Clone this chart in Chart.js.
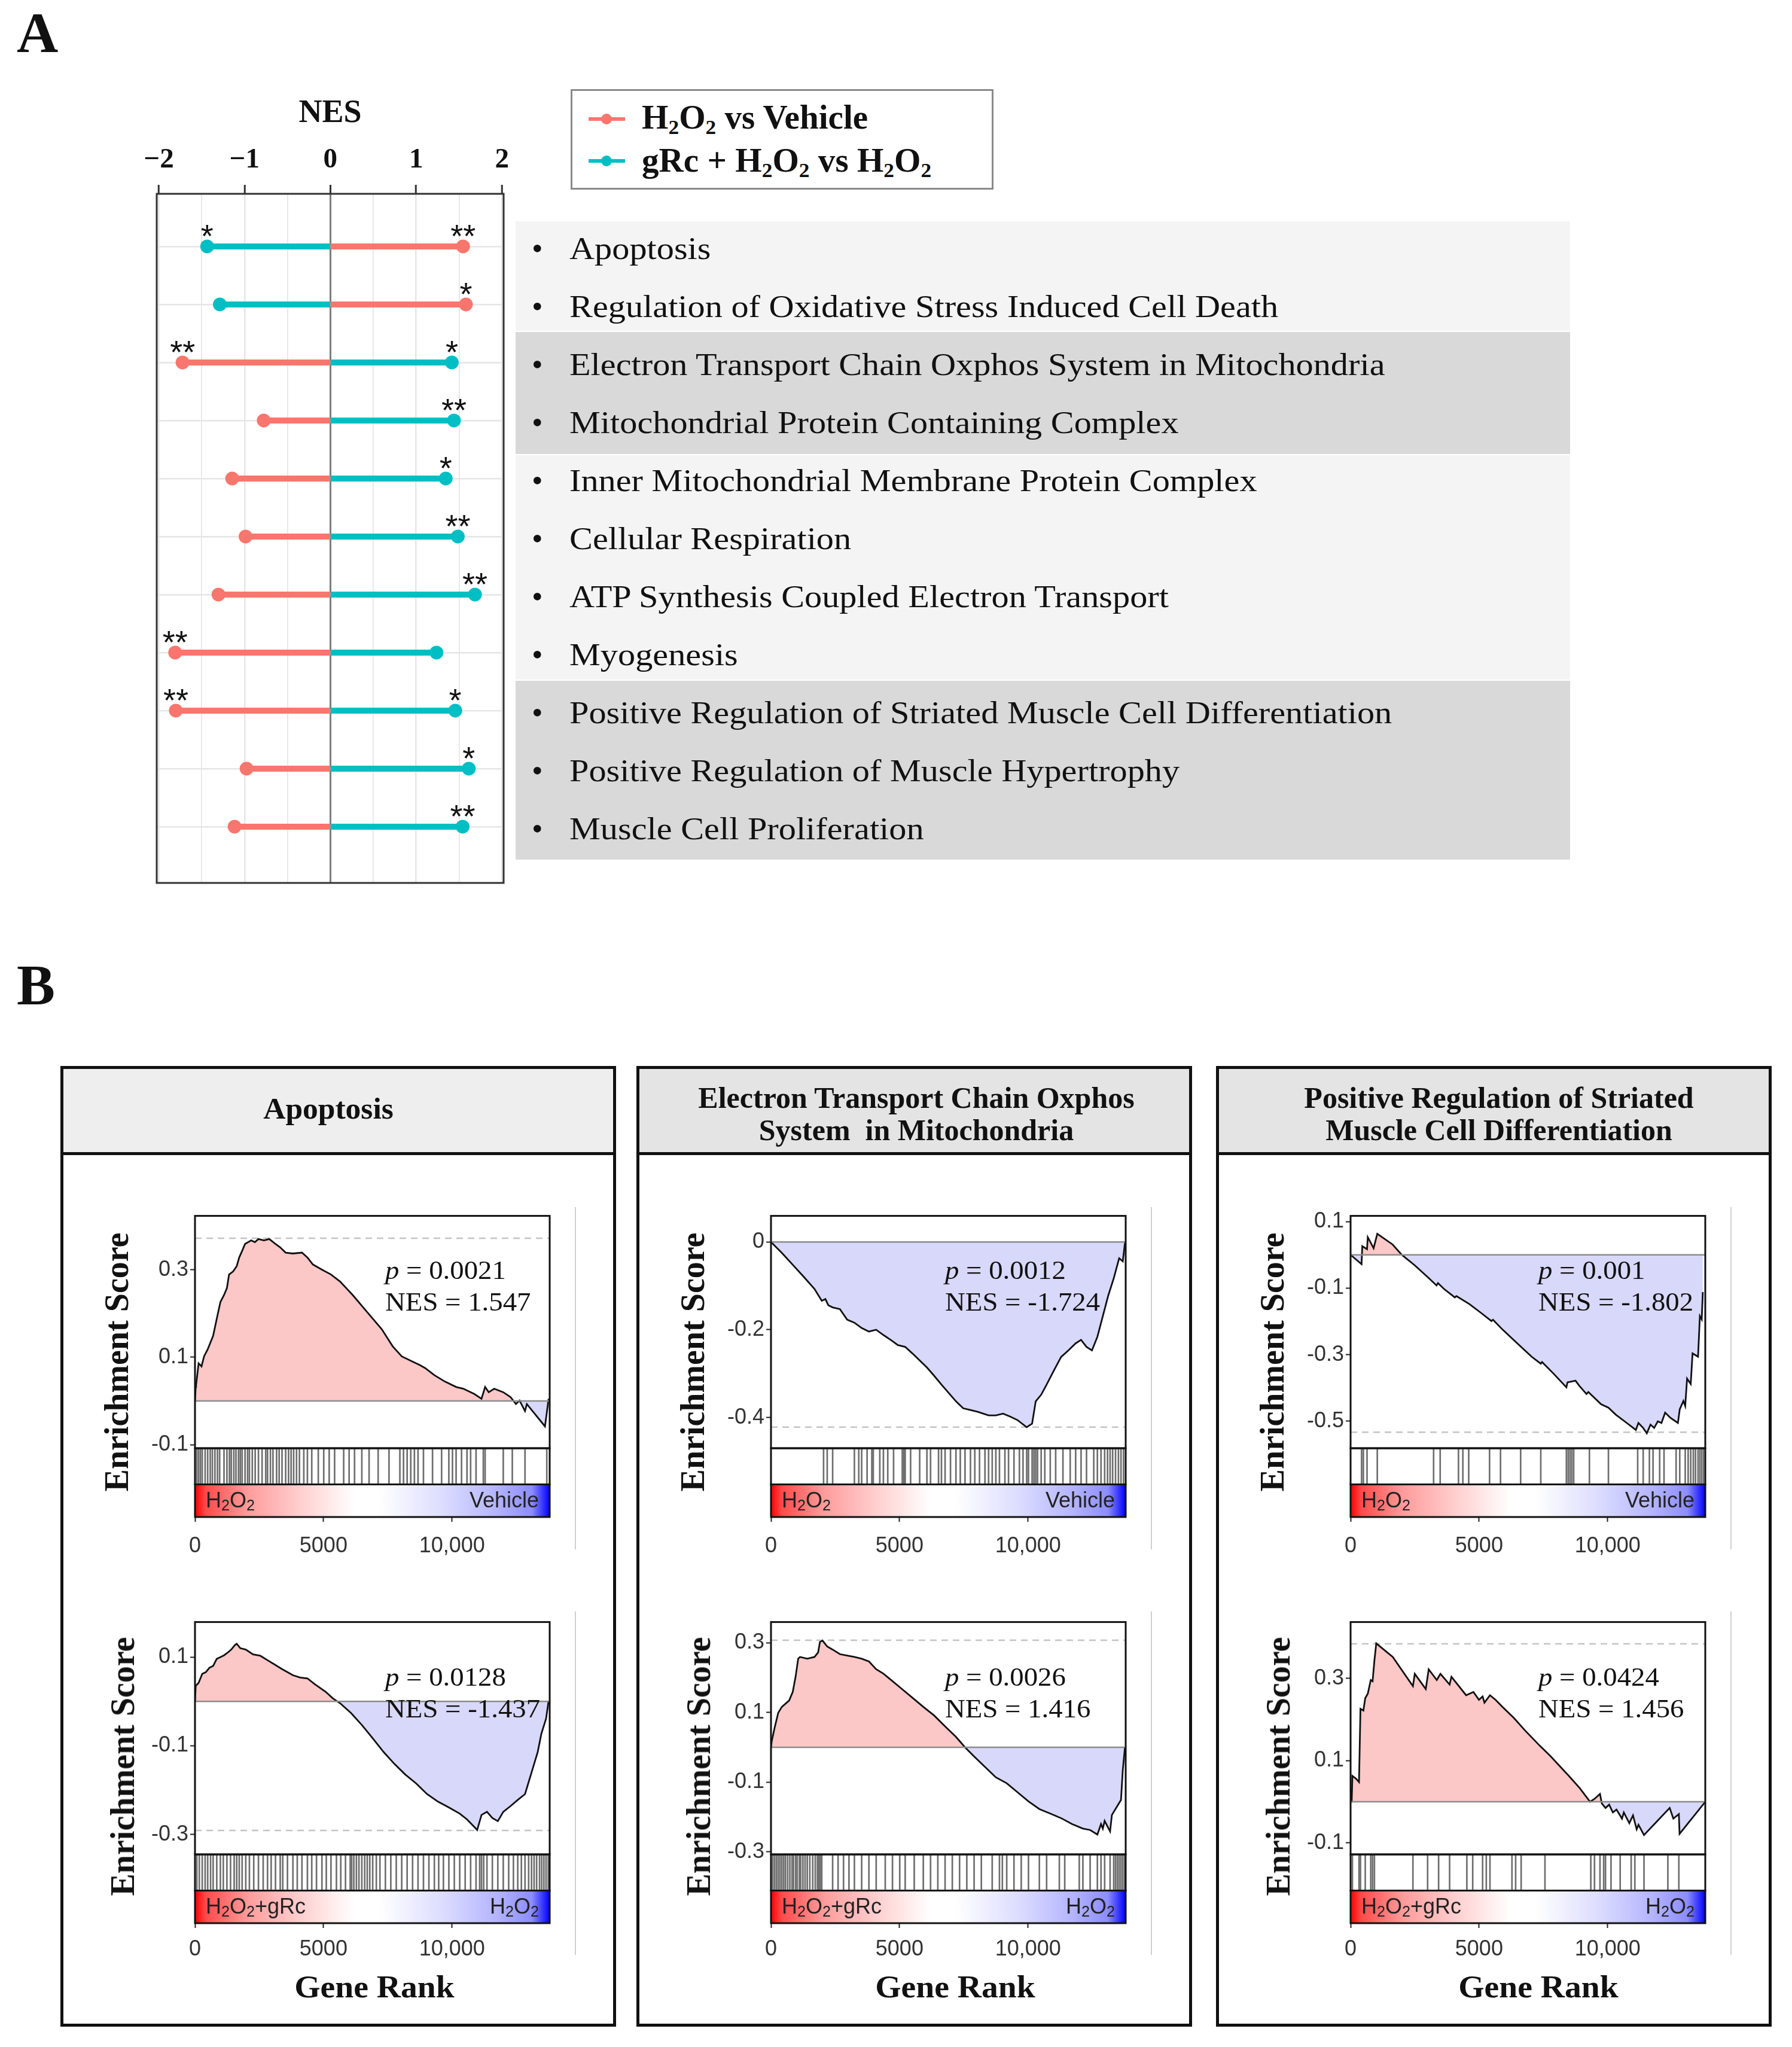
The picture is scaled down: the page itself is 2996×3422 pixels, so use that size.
<!DOCTYPE html>
<html>
<head>
<meta charset="utf-8">
<script src="https://cdn.jsdelivr.net/npm/chart.js@4.4.1/dist/chart.umd.min.js"></script>
<style>
  html, body { margin: 0; padding: 0; background: #fff; overflow: hidden; }
  #page { position: relative; width: 2996px; height: 3422px; background: #fff; overflow: hidden; }
  canvas { position: absolute; }
  .t { position: absolute; white-space: pre; line-height: 1; color: #111; }
  .t sub { font-size: 0.62em; vertical-align: baseline; position: relative; top: 0.25em; line-height: 0; }
  .t.sans sub { font-size: 0.7em; top: 0.2em; }
  .box { position: absolute; box-sizing: border-box; }
</style>
</head>
<body>
<div id="page"></div>
<script>
// ---- panel A data ----
const pathways = [
  "Apoptosis",
  "Regulation of Oxidative Stress Induced Cell Death",
  "Electron Transport Chain Oxphos System in Mitochondria",
  "Mitochondrial Protein Containing Complex",
  "Inner Mitochondrial Membrane Protein Complex",
  "Cellular Respiration",
  "ATP Synthesis Coupled Electron Transport",
  "Myogenesis",
  "Positive Regulation of Striated Muscle Cell Differentiation",
  "Positive Regulation of Muscle Hypertrophy",
  "Muscle Cell Proliferation"
];
const nesH2O2 = [1.547, 1.58, -1.724, -0.777, -1.145, -0.989, -1.305, -1.81, -1.802, -0.977, -1.117];
const nesGrc  = [-1.437, -1.289, 1.416, 1.441, 1.345, 1.486, 1.686, 1.237, 1.456, 1.614, 1.542];
const starsH2O2 = ["**", "*", "**", "", "", "", "", "**", "**", "", ""];
const starsGrc  = ["*", "", "*", "**", "*", "**", "**", "", "*", "*", "**"];
const nesTicks = [-2, -1.5, -1, -0.5, 0, 0.5, 1, 1.5, 2];

// ---- panel B data ----
const GENE_TOTAL = 13800;
const rankTicks = [0, 5000, 10000];
const rankTickLabels = ["0", "5000", "10,000"];

const esApoH2O2 = [[0,0],[28,0.032],[42,0.036],[141,0.086],[254,0.079],[353,0.102],[494,0.118],[706,0.149],[847,0.188],[988,0.226],[1129,0.242],[1242,0.258],[1326,0.289],[1482,0.296],[1623,0.308],[1721,0.328],[1834,0.343],[1947,0.359],[2187,0.367],[2328,0.363],[2469,0.370],[2681,0.367],[2893,0.370],[3104,0.360],[3316,0.351],[3528,0.339],[3810,0.337],[4162,0.339],[4374,0.328],[4586,0.312],[4939,0.300],[5291,0.289],[5644,0.273],[6138,0.242],[6702,0.203],[7267,0.164],[7690,0.125],[8043,0.102],[8466,0.090],[8748,0.082],[8960,0.075],[9313,0.059],[9736,0.044],[10159,0.032],[10441,0.028],[10865,0.016],[11147,0.005],[11288,0.032],[11429,0.020],[11641,0.028],[11994,0.020],[12276,0.009],[12487,-0.007],[12628,0.001],[12840,-0.023],[12911,-0.007],[13617,-0.058],[13758,0.005]];
const hitsApoH2O2 = [71,141,212,282,395,494,593,677,776,875,959,1129,1242,1340,1411,1510,1594,1693,1764,1834,1947,2046,2117,2229,2342,2469,2610,2751,2822,2935,3034,3175,3274,3386,3528,3640,3739,3838,3951,4064,4233,4374,4543,4797,5009,5221,5432,5785,5997,6208,6491,6773,7126,7549,7972,8113,8254,8395,8537,8678,8889,9242,9595,9877,10018,10159,10371,10583,10724,10935,11218,11288,11994,12346,12840,13687];

const esApoGrc = [[0,0],[28,0.035],[141,0.042],[282,0.062],[423,0.066],[564,0.076],[706,0.08],[847,0.096],[988,0.1],[1129,0.104],[1270,0.11],[1411,0.117],[1552,0.127],[1623,0.130],[1764,0.12],[1975,0.117],[2258,0.106],[2540,0.103],[2822,0.093],[3104,0.083],[3386,0.073],[3810,0.059],[4092,0.054],[4374,0.052],[4656,0.039],[5080,0.022],[5362,0.007],[5644,-0.004],[6067,-0.026],[6491,-0.053],[6914,-0.083],[7337,-0.114],[7761,-0.141],[8184,-0.165],[8607,-0.185],[9030,-0.209],[9454,-0.226],[9877,-0.239],[10300,-0.253],[10583,-0.266],[10865,-0.283],[10978,-0.29],[11147,-0.256],[11359,-0.249],[11570,-0.263],[11782,-0.27],[11994,-0.249],[12276,-0.236],[12558,-0.222],[12840,-0.209],[13122,-0.155],[13334,-0.114],[13476,-0.073],[13659,-0.039],[13758,0.001]];
const hitsApoGrc = [71,169,282,395,494,607,706,847,988,1101,1242,1383,1524,1623,1721,1834,1975,2117,2286,2469,2653,2822,2963,3132,3316,3415,3598,3810,3979,4162,4374,4543,4727,4939,5108,5291,5503,5672,5856,6039,6096,6180,6279,6378,6491,6603,6702,6801,6914,7055,7196,7408,7619,7831,8043,8254,8466,8678,8889,9101,9313,9482,9665,9877,10089,10300,10512,10724,10935,11076,11147,11232,11359,11570,11782,11994,12205,12389,12558,12699,12840,12981,13094,13193,13292,13405,13490,13574,13659,13744];

const esEtcH2O2 = [[0,0],[423,-0.025],[847,-0.052],[1270,-0.079],[1693,-0.107],[1975,-0.134],[2117,-0.13],[2229,-0.144],[2399,-0.149],[2681,-0.153],[2963,-0.177],[3245,-0.184],[3528,-0.196],[3810,-0.204],[4092,-0.2],[4374,-0.212],[4656,-0.223],[4939,-0.235],[5221,-0.239],[5503,-0.254],[5785,-0.27],[6067,-0.286],[6350,-0.305],[6632,-0.325],[6914,-0.344],[7196,-0.363],[7478,-0.379],[7761,-0.383],[8043,-0.387],[8466,-0.395],[8748,-0.395],[9030,-0.391],[9313,-0.398],[9595,-0.406],[9948,-0.422],[10159,-0.414],[10300,-0.363],[10512,-0.348],[10724,-0.325],[11006,-0.293],[11288,-0.262],[11570,-0.247],[11853,-0.231],[12064,-0.223],[12276,-0.239],[12487,-0.247],[12699,-0.216],[12911,-0.169],[13122,-0.122],[13334,-0.083],[13546,-0.037],[13687,-0.044],[13772,-0.002]];
const hitsEtcH2O2 = [2046,2187,2399,3245,3415,3528,3739,3923,3979,4233,4374,4543,4769,5108,5164,5221,5432,5785,6067,6208,6519,6632,6773,6984,7196,7365,7549,7761,7930,8113,8325,8466,8607,8748,8889,9101,9242,9454,9665,9806,9948,10018,10159,10230,10300,10371,10512,10653,10865,11076,11359,11641,11853,12064,12276,12558,12699,12840,12981,13094,13193,13292,13405,13518,13617,13716];

const esEtcGrc = [[0,0],[28,0.017],[141,0.056],[282,0.099],[423,0.116],[564,0.125],[706,0.134],[847,0.159],[959,0.203],[1058,0.254],[1129,0.259],[1411,0.254],[1693,0.259],[1834,0.272],[1905,0.302],[2004,0.306],[2187,0.289],[2399,0.28],[2681,0.267],[2963,0.263],[3245,0.259],[3528,0.254],[3810,0.246],[4092,0.224],[4374,0.211],[4656,0.194],[5080,0.168],[5503,0.142],[5926,0.116],[6350,0.091],[6773,0.06],[7196,0.03],[7549,0],[7902,-0.026],[8325,-0.056],[8748,-0.086],[9172,-0.103],[9595,-0.129],[10018,-0.155],[10441,-0.177],[10865,-0.19],[11288,-0.203],[11711,-0.22],[12135,-0.233],[12417,-0.237],[12699,-0.25],[12840,-0.22],[12911,-0.233],[12981,-0.211],[13193,-0.241],[13263,-0.194],[13476,-0.168],[13617,-0.151],[13687,-0.065],[13772,0]];
const hitsEtcGrc = [71,141,212,282,353,423,494,564,649,734,818,875,959,1016,1101,1157,1242,1326,1411,1510,1623,1721,1806,1863,1919,1975,2399,2610,2822,3034,3245,3528,3810,4092,4445,4727,5009,5221,5573,5926,6208,6491,6773,7055,7337,7619,7902,8184,8607,8889,9002,9172,9454,9736,10018,10441,10724,11218,11429,11994,12135,12417,12699,12840,12981,13193,13334,13405,13476,13546,13617,13687,13758];

const esStrH2O2 = [[0,0],[427,-0.028],[455,0.026],[640,0.017],[669,0.053],[896,0.02],[1039,0.063],[1636,0.031],[1992,0],[2490,-0.031],[3059,-0.071],[3344,-0.092],[3400,-0.085],[3629,-0.102],[4056,-0.128],[4120,-0.124],[4625,-0.148],[5052,-0.173],[5479,-0.199],[5540,-0.195],[5905,-0.224],[6475,-0.265],[7044,-0.306],[7400,-0.327],[7450,-0.322],[7898,-0.357],[8396,-0.398],[8440,-0.383],[8751,-0.378],[8894,-0.393],[9178,-0.418],[9250,-0.412],[9748,-0.449],[10032,-0.459],[10317,-0.48],[10744,-0.505],[11099,-0.526],[11199,-0.505],[11384,-0.52],[11526,-0.536],[11669,-0.51],[11811,-0.52],[11953,-0.5],[12096,-0.505],[12238,-0.474],[12451,-0.49],[12736,-0.505],[12807,-0.464],[12949,-0.439],[13020,-0.454],[13092,-0.372],[13234,-0.388],[13305,-0.296],[13519,-0.306],[13590,-0.184],[13661,-0.194],[13704,-0.112]];
const hitsStrH2O2 = [427,498,640,1039,3230,3486,4198,4369,4596,5407,5834,6617,7400,8396,8467,8538,8609,8680,9292,10032,11170,11384,11626,11768,12025,12195,12665,12807,13020,13134,13234,13334,13419,13519,13590,13661,13732];

const esStrGrc = [[0,0],[43,0],[71,0.063],[214,0.056],[328,0.048],[385,0.226],[499,0.222],[571,0.252],[671,0.263],[785,0.296],[856,0.293],[928,0.344],[999,0.385],[1641,0.352],[2426,0.281],[2497,0.311],[2925,0.274],[3040,0.322],[3353,0.296],[3496,0.311],[3853,0.285],[3924,0.304],[4495,0.259],[4780,0.267],[4994,0.248],[5137,0.256],[5209,0.241],[5423,0.259],[5637,0.248],[5922,0.23],[6350,0.204],[6778,0.174],[7349,0.137],[7777,0.111],[8491,0.063],[8919,0.033],[9318,0],[9490,0.007],[9704,0.019],[9775,-0.004],[9918,-0.015],[10060,-0.007],[10203,-0.026],[10346,-0.019],[10560,-0.041],[10631,-0.026],[10845,-0.052],[10988,-0.033],[11131,-0.067],[11202,-0.056],[11416,-0.081],[11916,-0.048],[12415,-0.015],[12558,-0.041],[12772,-0.03],[12800,-0.078],[13800,0]];
const hitsStrGrc = [71,328,385,571,785,856,928,2426,2997,3425,3853,4524,4752,5137,5280,5423,6279,6422,6636,7563,9347,9490,9704,9846,9918,10132,10489,10917,11060,11416,12344,12772];

const panelTitles = [["Apoptosis"], ["Electron Transport Chain Oxphos", "System  in Mitochondria"], ["Positive Regulation of Striated", "Muscle Cell Differentiation"]];
const pValues = [["0.0021", "0.0128"], ["0.0012", "0.0026"], ["0.001", "0.0424"]];
const nesValues = [["1.547", "-1.437"], ["-1.724", "1.416"], ["-1.802", "1.456"]];

// ---- helpers ----
const page = document.getElementById("page");
const SERIF = '"Liberation Serif", "Times New Roman", serif';
const SANS = '"Liberation Sans", Arial, sans-serif';
const RED = "#F8766D", TEAL = "#00BFC4";

function box(x, y, w, h, css) {
  const d = document.createElement("div");
  d.className = "box";
  d.style.cssText += `left:${x}px;top:${y}px;width:${w}px;height:${h}px;` + (css || "");
  page.appendChild(d);
  return d;
}

// text placed by its baseline
function txt(html, x, base, size, o = {}) {
  const d = document.createElement("div");
  d.className = "t" + (o.sans ? " sans" : "");
  const k = o.sans ? 0.8465 : 0.8375;
  const sx = o.sx || 1;
  d.style.fontFamily = o.sans ? SANS : SERIF;
  d.style.fontSize = size + "px";
  d.style.fontWeight = o.bold ? "bold" : "normal";
  if (o.color) d.style.color = o.color;
  d.style.left = x + "px";
  d.style.top = (base - k * size) + "px";
  if (o.align === "center") { d.style.transform = `translateX(-50%) scaleX(${sx})`; d.style.transformOrigin = "center"; }
  else if (o.align === "right") { d.style.transform = `translateX(-100%) scaleX(${sx})`; d.style.transformOrigin = "right"; }
  else { d.style.transform = `scaleX(${sx})`; d.style.transformOrigin = "left"; }
  d.innerHTML = html;
  page.appendChild(d);
}

function vtxt(html, cx, cy, size) {
  const d = document.createElement("div");
  d.className = "t";
  d.style.cssText += `font-family:${SERIF};font-size:${size}px;font-weight:bold;left:${cx}px;top:${cy}px;transform:translate(-50%,-50%) rotate(-90deg);`;
  d.innerHTML = html;
  page.appendChild(d);
}

function canvasAt(x, y, w, h) {
  const c = document.createElement("canvas");
  c.width = w; c.height = h;
  c.style.cssText = `left:${x}px;top:${y}px;width:${w}px;height:${h}px;`;
  page.appendChild(c);
  return c;
}

// ---- panel A ----
txt("A", 28, 87, 96, { bold: true });
txt("NES", 552, 204, 54, { bold: true, align: "center" });

function lollipop(vals) {
  return vals.flatMap((v, i) => [{ x: 0, y: i + 1 }, { x: v, y: i + 1 }, { x: 0, y: null }]);
}

const starPlugin = {
  id: "stars",
  afterDatasetsDraw(chart) {
    const { ctx, chartArea: a, scales: { x, y } } = chart;
    ctx.save();
    ctx.font = '54px "Liberation Sans"';
    ctx.fillStyle = "#111";
    ctx.textAlign = "center";
    ctx.textBaseline = "alphabetic";
    [[nesH2O2, starsH2O2], [nesGrc, starsGrc]].forEach(([vals, st]) => {
      vals.forEach((v, i) => {
        if (st[i]) ctx.fillText(st[i], x.getPixelForValue(v), y.getPixelForValue(i + 1) + 1);
      });
    });
    ctx.strokeStyle = "#333";
    ctx.lineWidth = 3;
    ctx.strokeRect(a.left, a.top, a.right - a.left, a.bottom - a.top);
    ctx.restore();
  }
};

const cA = canvasAt(150, 180, 750, 1330);
const lineDs = (label, vals, color) => ({
  label, data: lollipop(vals),
  borderColor: color, backgroundColor: color,
  borderWidth: 10, borderCapStyle: "butt", spanGaps: false, fill: false,
  pointRadius: c => (c.dataIndex % 3 === 1 ? 11.5 : 0),
  pointBackgroundColor: color, pointBorderWidth: 0, pointHoverRadius: 0
});
const chartA = new Chart(cA, {
  type: "line",
  data: { datasets: [lineDs("H2O2 vs Vehicle", nesH2O2, RED), lineDs("gRc + H2O2 vs H2O2", nesGrc, TEAL)] },
  options: {
    responsive: false, animation: false, devicePixelRatio: 1, events: [],
    layout: { padding: { left: 112, right: 58, top: 0, bottom: 34 } },
    plugins: { legend: { display: false }, tooltip: { enabled: false } },
    scales: {
      x: {
        type: "linear", position: "top", min: -2.025, max: 2.02,
        afterBuildTicks: s => { s.ticks = nesTicks.map(v => ({ value: v })); },
        afterFit: s => { s.height = 144; },
        ticks: {
          padding: 13, color: "#111", autoSkip: false, maxRotation: 0,
          font: { family: "Liberation Serif", size: 47, weight: "bold" },
          callback: v => Number.isInteger(v) ? (v < 0 ? "\u2212" + Math.abs(v) : String(v)) : ""
        },
        grid: {
          color: c => (c.tick && c.tick.value === 0 ? "#7d7d7d" : "#e6e6e6"),
          lineWidth: c => (c.tick && c.tick.value === 0 ? 3 : (c.tick && Number.isInteger(c.tick.value) ? 2.5 : 1.8)),
          tickColor: c => (c.tick && Number.isInteger(c.tick.value) ? "#333" : "rgba(0,0,0,0)"),
          tickLength: 15, tickWidth: 3
        },
        border: { display: false }
      },
      y: {
        type: "linear", reverse: true, min: 0.093, max: 11.97,
        afterBuildTicks: s => { s.ticks = pathways.map((_, i) => ({ value: i + 1 })); },
        afterFit: s => { s.width = 0; },
        ticks: { display: false },
        grid: { color: "#e6e6e6", lineWidth: 2.5, drawTicks: false },
        border: { display: false }
      }
    }
  },
  plugins: [starPlugin]
});

// legend
box(954, 149, 707, 168, "border:3px solid #8a8a8a;background:#fff;");
[[199, RED], [269, TEAL]].forEach(([y, c]) => {
  box(984, y - 3, 61, 6, `background:${c};`);
  box(1005, y - 9, 18, 18, `background:${c};border-radius:50%;`);
});
txt("H<sub>2</sub>O<sub>2</sub> vs Vehicle", 1073, 215, 56, { bold: true, sx: 1.02 });
txt("gRc + H<sub>2</sub>O<sub>2</sub> vs H<sub>2</sub>O<sub>2</sub>", 1073, 287, 56, { bold: true, sx: 1.02 });

// pathway label bands
[[370, 553, "#f4f4f4"], [555, 759, "#d9d9d9"], [761, 1136, "#f4f4f4"], [1138, 1437, "#d9d9d9"]].forEach(([t, b, c]) => {
  box(862, t, 2625 - 862, b - t, `background:${c};`);
});
pathways.forEach((name, i) => {
  const yRow = chartA.scales.y.getPixelForValue(i + 1) + 180;
  txt("\u2022", 889, yRow + 21, 53);
  txt(name, 952, yRow + 21, 53, { sx: 1.1 });
});

// ---- panel B ----
txt("B", 28, 1679, 96, { bold: true });

const panelLeft = [101, 1064, 2033];
const headerBg = ["#eeeeee", "#e4e4e4", "#e4e4e4"];
const titleCenter = [549, 1532, 2506];
const geneRankCenter = [626, 1597, 2572];
const statX = [644, 1580, 2572];

panelLeft.forEach((L, p) => {
  box(L, 1782, 929, 1606, "border:5px solid #111;background:#fff;");
  box(L, 1782, 929, 149, `border:5px solid #111;background:${headerBg[p]};`);
  const lines = panelTitles[p];
  if (lines.length === 1) txt(lines[0], titleCenter[p], 1870, 50, { bold: true, align: "center", sx: 1.03 });
  else {
    txt(lines[0], titleCenter[p], 1852, 50, { bold: true, align: "center" });
    txt(lines[1], titleCenter[p], 1906, 50, { bold: true, align: "center" });
  }
  txt("Gene Rank", geneRankCenter[p], 3339, 53, { bold: true, align: "center", sx: 1.05 });
  // thin grey rule at the right of each plot
  box(L + 860, 2018, 2, 572, "background:#d0d0d0;");
  box(L + 860, 2694, 2, 574, "background:#d0d0d0;");
});

const barStops = [[0, "#ff0000"], [0.03, "#ff4a4a"], [0.15, "#ff9c9c"], [0.3, "#ffd0d0"], [0.45, "#ffffff"], [0.52, "#ffffff"], [0.7, "#dcdcff"], [0.85, "#b4b4ff"], [0.95, "#8c8cff"], [1, "#0000ff"]];

const gseaFrame = {
  id: "frame",
  beforeDatasetsDraw(chart, args, o) {
    const { ctx, chartArea: a, scales: { y } } = chart;
    const yb = y.getPixelForValue(o.hitsLo);
    const g = ctx.createLinearGradient(a.left, 0, a.right, 0);
    barStops.forEach(([s, c]) => g.addColorStop(s, c));
    ctx.save();
    ctx.fillStyle = g;
    ctx.fillRect(a.left, yb, a.right - a.left, a.bottom - yb);
    ctx.restore();
  },
  afterDatasetsDraw(chart, args, o) {
    const { ctx, chartArea: a, scales: { y } } = chart;
    const ye = y.getPixelForValue(o.esMin), yb = y.getPixelForValue(o.hitsLo);
    ctx.save();
    ctx.strokeStyle = "#111";
    ctx.lineWidth = 3;
    ctx.strokeRect(a.left, a.top, a.right - a.left, ye - a.top);
    ctx.strokeRect(a.left, ye, a.right - a.left, yb - ye);
    ctx.strokeRect(a.left, yb, a.right - a.left, a.bottom - yb);
    ctx.restore();
  }
};

const ES_H = 392, HITS_H = 61, BAR_H = 55, ES_W = 593;
const H2O2 = "H<sub>2</sub>O<sub>2</sub>";
const gseaPlots = [
  { panel: 0, row: 0, curve: esApoH2O2, hits: hitsApoH2O2, esMax: 0.423, esMin: -0.108, yTicks: [0.3, 0.1, -0.1], peak: 0.372, left: H2O2, right: "Vehicle" },
  { panel: 0, row: 1, curve: esApoGrc, hits: hitsApoGrc, esMax: 0.179, esMin: -0.345, yTicks: [0.1, -0.1, -0.3], peak: -0.291, left: H2O2 + "+gRc", right: H2O2 },
  { panel: 1, row: 0, curve: esEtcH2O2, hits: hitsEtcH2O2, esMax: 0.0595, esMin: -0.470, yTicks: [0, -0.2, -0.4], peak: -0.422, left: H2O2, right: "Vehicle" },
  { panel: 1, row: 1, curve: esEtcGrc, hits: hitsEtcGrc, esMax: 0.359, esMin: -0.307, yTicks: [0.3, 0.1, -0.1, -0.3], peak: 0.307, left: H2O2 + "+gRc", right: H2O2 },
  { panel: 2, row: 0, curve: esStrH2O2, hits: hitsStrH2O2, esMax: 0.117, esMin: -0.581, yTicks: [0.1, -0.1, -0.3, -0.5], peak: -0.533, left: H2O2, right: "Vehicle" },
  { panel: 2, row: 1, curve: esStrGrc, hits: hitsStrGrc, esMax: 0.437, esMin: -0.128, yTicks: [0.3, 0.1, -0.1], peak: 0.384, left: H2O2 + "+gRc", right: H2O2 }
];

gseaPlots.forEach(sp => {
  const L = panelLeft[sp.panel];
  const boxTop = sp.row === 0 ? 2028 : 2707;
  const ppu = ES_H / (sp.esMax - sp.esMin);
  const hitsLo = sp.esMin - HITS_H / ppu;
  const yMin = hitsLo - BAR_H / ppu;
  const cw = 720, ch = 20 + ES_H + HITS_H + BAR_H + 80;
  const cv = canvasAt(L + 125, boxTop - 20, cw, ch);
  const tickFont = { family: "Liberation Sans", size: 36 };
  new Chart(cv, {
    type: "line",
    data: {
      datasets: [
        { data: [{ x: 0, y: 0 }, { x: GENE_TOTAL, y: 0 }], borderColor: "#8c8c8c", borderWidth: 2.5, pointRadius: 0, fill: false, order: 0 },
        { data: sp.curve.map(([x, y]) => ({ x, y })), borderColor: "#111", borderWidth: 2.8, pointRadius: 0, tension: 0,
          fill: { target: { value: 0 }, above: "#fbc7c7", below: "#d8d8fa" }, order: 1 },
        { data: [{ x: 0, y: sp.peak }, { x: GENE_TOTAL, y: sp.peak }], borderColor: "#c4c4c4", borderWidth: 2.5, borderDash: [11, 8], pointRadius: 0, fill: false, order: 2 },
        { type: "bar", data: sp.hits.map(r => ({ x: r, y: [hitsLo, sp.esMin] })), backgroundColor: "#6e6e6e", borderWidth: 0, barThickness: 2, order: 3 }
      ]
    },
    options: {
      responsive: false, animation: false, devicePixelRatio: 1, events: [],
      layout: { padding: { left: 0, right: cw - 100 - ES_W, top: 20, bottom: 0 } },
      plugins: { legend: { display: false }, tooltip: { enabled: false }, frame: { esMin: sp.esMin, hitsLo } },
      scales: {
        x: {
          type: "linear", position: "bottom", min: 0, max: GENE_TOTAL, offset: false,
          afterBuildTicks: s => { s.ticks = rankTicks.map(v => ({ value: v })); },
          afterFit: s => { s.height = 80; },
          ticks: { autoSkip: false, maxRotation: 0, padding: sp.row === 0 ? 19 : 14, color: "#333", font: tickFont,
                   callback: (v, i) => rankTickLabels[i] },
          grid: { drawOnChartArea: false, offset: false, tickLength: 8, tickWidth: 2, tickColor: "#222" },
          border: { display: false }
        },
        y: {
          type: "linear", min: yMin, max: sp.esMax,
          afterBuildTicks: s => { s.ticks = sp.yTicks.map(v => ({ value: v })); },
          afterFit: s => { s.width = 100; },
          ticks: { padding: 3, color: "#333", font: tickFont, callback: v => (v === 0 ? "0" : v.toFixed(1)) },
          grid: { drawOnChartArea: false, tickLength: 8, tickWidth: 2, tickColor: "#222" },
          border: { display: false }
        }
      }
    },
    plugins: [gseaFrame]
  });

  // colour bar labels
  const barMid = boxTop + ES_H + HITS_H + BAR_H / 2;
  txt(sp.left, L + 243, barMid + 12, 36, { sans: true, color: "#222" });
  txt(sp.right, L + 800, barMid + 12, 36, { sans: true, color: "#222", align: "right" });

  // stats
  const b1 = sp.row === 0 ? 2139 : 2819;
  txt("<i>p</i> = " + pValues[sp.panel][sp.row], statX[sp.panel], b1, 45, { sx: 1.04 });
  txt("NES = " + nesValues[sp.panel][sp.row], statX[sp.panel], b1 + 53, 45, { sx: 1.04 });

  // axis title
  vtxt("Enrichment Score", L + (sp.row === 0 ? 94 : 104), sp.row === 0 ? 2277 : 2953, 56);
});
</script>
</body>
</html>
